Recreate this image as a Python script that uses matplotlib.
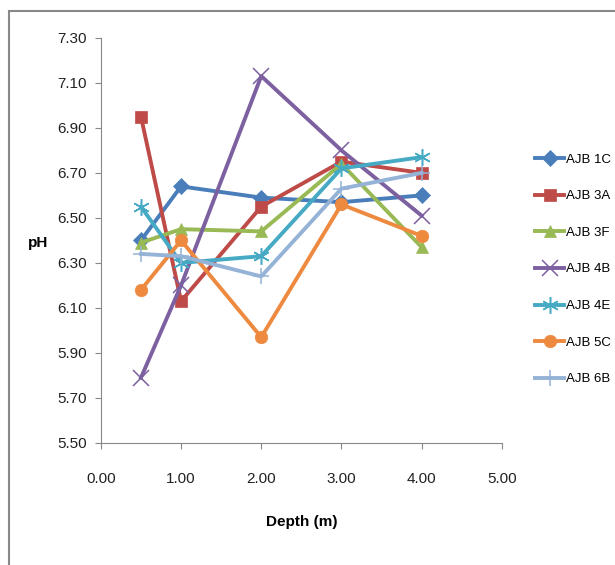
import matplotlib.pyplot as plt
from matplotlib.patches import Rectangle

plt.rcParams['font.family'] = ['Liberation Sans Narrow', 'Liberation Sans', 'DejaVu Sans']

# Depth (m) and pH readings per sample
depth = [0.5, 1.0, 2.0, 3.0, 4.0]
ajb_1c = [6.40, 6.64, 6.59, 6.57, 6.60]
ajb_3a = [6.95, 6.13, 6.55, 6.75, 6.70]
ajb_3f = [6.39, 6.45, 6.44, 6.74, 6.37]
ajb_4b = [5.79, 6.20, 7.13, 6.80, 6.51]
ajb_4e = [6.55, 6.30, 6.33, 6.72, 6.77]
ajb_5c = [6.18, 6.40, 5.97, 6.56, 6.42]
ajb_6b = [6.34, 6.33, 6.24, 6.63, 6.70]

names = ['AJB 1C', 'AJB 3A', 'AJB 3F', 'AJB 4B', 'AJB 4E', 'AJB 5C', 'AJB 6B']
series = [ajb_1c, ajb_3a, ajb_3f, ajb_4b, ajb_4e, ajb_5c, ajb_6b]
colors = ['#4A7EBB', '#BE4B48', '#98B954', '#7D60A0', '#46AAC5', '#EE8A40', '#95B3D7']
markers = ['D', 's', '^', 'x', (6, 2, 0), 'o', '+']
msizes = [8, 9, 9, 11, 12, 9, 12]

fig = plt.figure(figsize=(6.15, 5.65), dpi=100)
ax = fig.add_axes([0.164, 0.216, 0.652, 0.717])

for vals, name, c, m, ms in zip(series, names, colors, markers, msizes):
    thin = m in ('x', '+') or isinstance(m, tuple)
    ax.plot(depth, vals, color=c, lw=2.8, marker=m, markersize=ms,
            markeredgewidth=1.1 if thin else 0.5, label=name)

ax.set_xlim(0, 5)
ax.set_ylim(5.5, 7.3)
ax.set_xticks([0, 1, 2, 3, 4, 5])
ax.set_yticks([5.5, 5.7, 5.9, 6.1, 6.3, 6.5, 6.7, 6.9, 7.1, 7.3])
ax.xaxis.set_major_formatter('{x:.2f}')
ax.yaxis.set_major_formatter('{x:.2f}')
ax.tick_params(labelsize=11, color='#888888', length=4, colors='#222222')
ax.tick_params(axis='x', pad=17)
ax.tick_params(axis='y', pad=6)
for s in ['top', 'right']:
    ax.spines[s].set_visible(False)
for s in ['left', 'bottom']:
    ax.spines[s].set_color('#888888')

ax.set_xlabel('Depth (m)', fontsize=11, fontweight='bold', va='center')
ax.xaxis.set_label_coords(0.502, -0.195)
ax.set_ylabel('pH', fontsize=11, fontweight='bold', rotation=0, va='center', ha='center')
ax.yaxis.set_label_coords(-0.157, 0.494)

ax.legend(loc='upper left', bbox_to_anchor=(0.862, 0.738),
          bbox_transform=fig.transFigure, frameon=False, fontsize=9.5,
          handlelength=2.2, labelspacing=1.85, handletextpad=0.15,
          borderaxespad=0)

fig.patches.append(Rectangle((9 / 615, -0.1), 1.2, 1 - 11 / 565 + 0.1,
                             transform=fig.transFigure, fill=False,
                             edgecolor='#888888', lw=1.5))

fig.savefig('out.png', dpi=100)
